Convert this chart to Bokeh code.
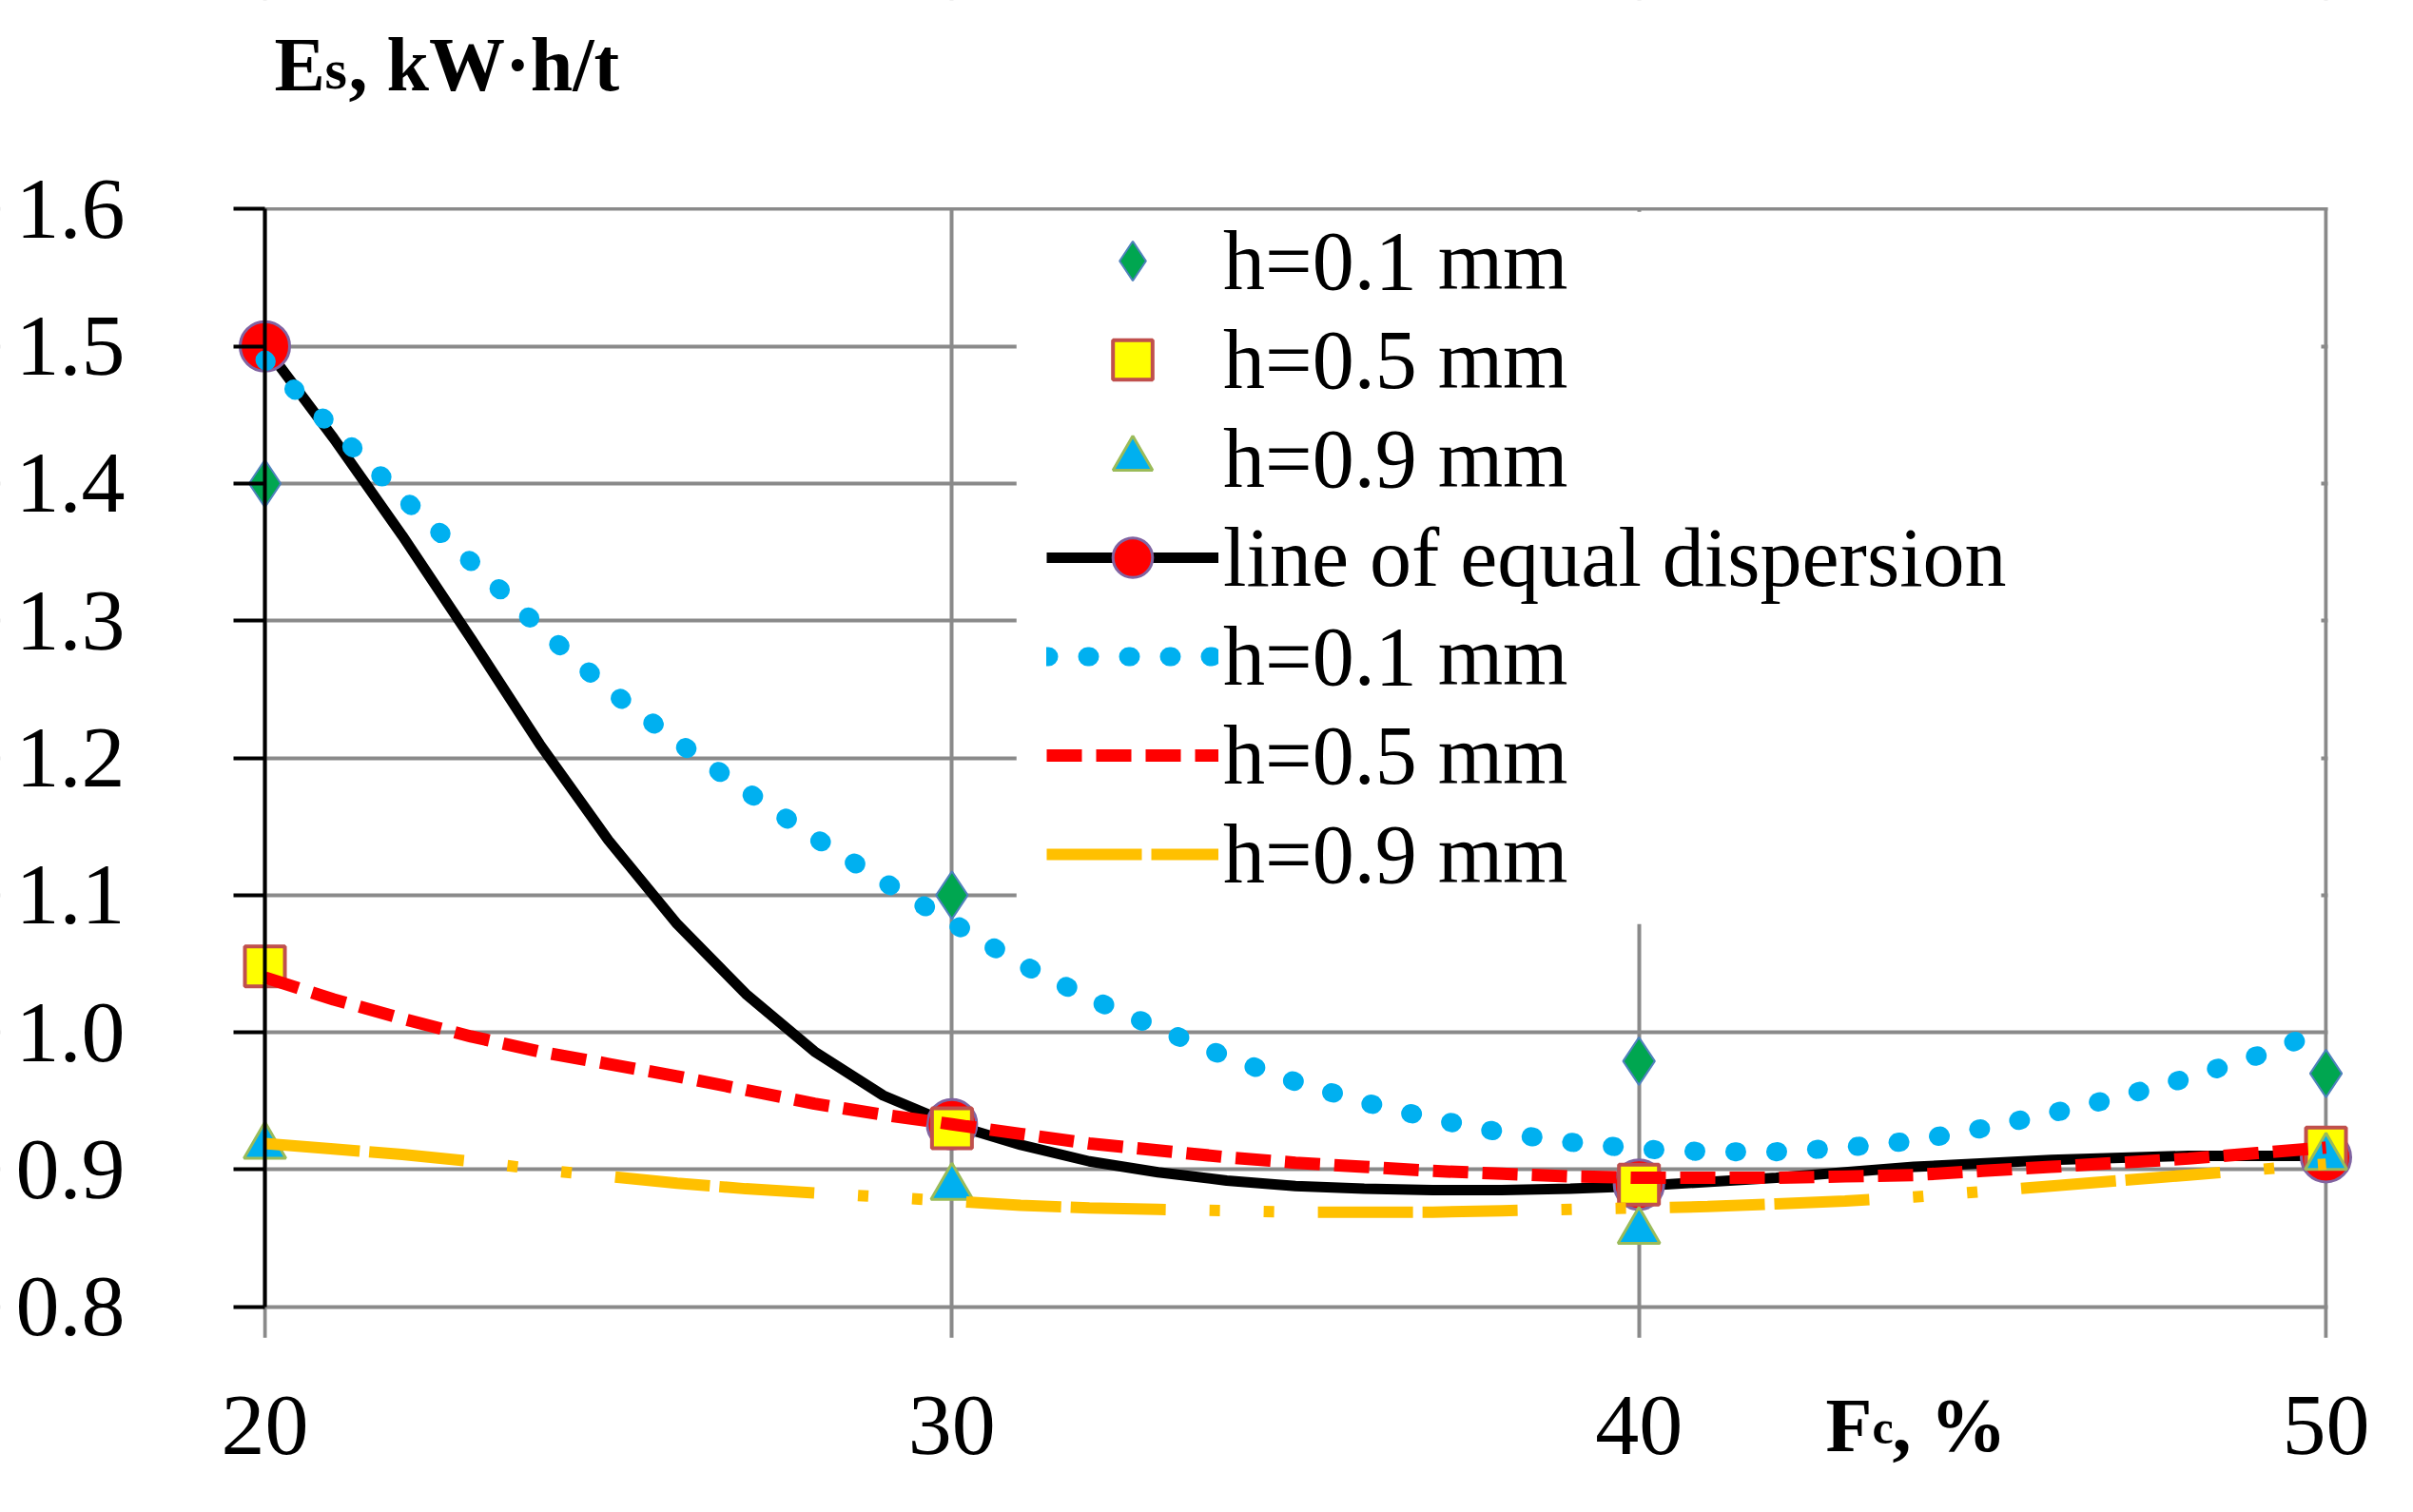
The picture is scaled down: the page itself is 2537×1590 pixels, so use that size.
from bokeh.plotting import figure
from bokeh.models import (Range1d, FixedTicker, PrintfTickFormatter, BoxAnnotation,
                          Legend, LegendItem, Label)
from bokeh.embed import file_html
from bokeh.resources import INLINE

# measured points, Fc in %, Es in kW*h/t
fc = [20, 30, 40, 50]
es_h01 = [1.400, 1.100, 0.979, 0.970]
es_h05 = [1.048, 0.930, 0.889, 0.916]
es_h09 = [0.917, 0.887, 0.855, 0.909]
es_equal = [1.500, 0.933, 0.889, 0.909]

# smoothed line of equal dispersion
fc_curve = [20, 21, 22, 23, 24, 25, 26, 27, 28, 29, 30, 31, 32, 33, 34, 35, 36, 37, 38, 39, 40,
            42, 44, 46, 48, 50]
es_curve = [1.500, 1.433, 1.362, 1.287, 1.210, 1.140, 1.079, 1.028, 0.986, 0.954, 0.933,
            0.918, 0.906, 0.898, 0.892, 0.888, 0.886, 0.885, 0.885, 0.886, 0.888,
            0.894, 0.902, 0.907, 0.910, 0.910]

# trend lines at every 1 %
fc_trend = [20, 21, 22, 23, 24, 25, 26, 27, 28, 29, 30, 31, 32, 33, 34, 35, 36, 37, 38, 39, 40,
            41, 42, 43, 44, 45, 46, 47, 48, 49, 50]
trend_h01 = [1.490, 1.440, 1.390, 1.343, 1.295, 1.250, 1.212, 1.176, 1.142, 1.110, 1.080,
             1.050, 1.025, 1.003, 0.982, 0.964, 0.949, 0.937, 0.927, 0.920, 0.915,
             0.913, 0.913, 0.916, 0.921, 0.930, 0.941, 0.953, 0.967, 0.983, 1.002]
trend_h05 = [1.040, 1.024, 1.010, 0.997, 0.986, 0.977, 0.968, 0.958, 0.948, 0.940, 0.933,
             0.926, 0.919, 0.914, 0.909, 0.905, 0.902, 0.899, 0.897, 0.895, 0.894,
             0.894, 0.894, 0.895, 0.896, 0.899, 0.902, 0.905, 0.908, 0.912, 0.916]
trend_h09 = [0.919, 0.915, 0.911, 0.906, 0.900, 0.895, 0.890, 0.886, 0.883, 0.880, 0.877,
             0.874, 0.872, 0.871, 0.870, 0.869, 0.869, 0.869, 0.870, 0.871, 0.872,
             0.873, 0.875, 0.877, 0.880, 0.884, 0.888, 0.892, 0.896, 0.900, 0.904]

y_ticks = [0.8, 0.9, 1.0, 1.1, 1.2, 1.3, 1.4, 1.5, 1.6]

SERIF = "Liberation Serif"
GRID = "#8a8a8a"

# the frame fills the whole canvas; axes sit at fixed places inside it
X0, X1 = 16.151, 51.038
Y0, Y1 = 0.66187, 1.75206
Y_FLOOR = 0.7775          # lower end of the drawn plot area

p = figure(width=2520, height=1573,
           x_range=Range1d(X0, X1), y_range=Range1d(Y0, Y1),
           output_backend="svg", toolbar_location=None,
           min_border_left=0, min_border_right=0,
           min_border_top=0, min_border_bottom=0)
p.outline_line_color = None
p.background_fill_color = "white"
p.border_fill_color = "white"

# grid
p.xgrid.ticker = FixedTicker(ticks=fc)
p.ygrid.ticker = FixedTicker(ticks=y_ticks)
p.xgrid.grid_line_color = GRID
p.xgrid.grid_line_width = 4
p.ygrid.grid_line_color = GRID
p.ygrid.grid_line_width = 4

# white masks: keep grid lines inside the plot area only
eps_x, eps_y = 0.028, 0.0014
def mask(left, right, bottom, top):
    return BoxAnnotation(left=left, right=right, bottom=bottom, top=top,
                         fill_color="white", fill_alpha=1.0, line_alpha=0,
                         level="underlay")

p.add_layout(mask(X0 - 1, X1 + 1, y_ticks[-1] + eps_y, Y1 + 1))   # above
p.add_layout(mask(X0 - 1, X1 + 1, Y0 - 1, Y_FLOOR))              # below
p.add_layout(mask(X0 - 1, fc[0] - eps_x, Y0 - 1, Y1 + 1))        # left
p.add_layout(mask(fc[-1] + eps_x, X1 + 1, Y0 - 1, Y1 + 1))       # right
# white area behind the legend
p.add_layout(mask(30.94, 49.93, 1.079, 1.598))

# x axis: labels only
p.xaxis.fixed_location = Y_FLOOR
p.xaxis.ticker = FixedTicker(ticks=fc)
p.xaxis.axis_line_color = None
p.xaxis.major_tick_line_color = None
p.xaxis.minor_tick_line_color = None
p.xaxis.major_label_standoff = 56
p.xaxis.major_label_text_font = SERIF
p.xaxis.major_label_text_font_size = "92px"
p.xaxis.major_label_text_color = "black"

# y axis
p.yaxis.fixed_location = fc[0]
p.yaxis.ticker = FixedTicker(ticks=y_ticks)
p.yaxis.formatter = PrintfTickFormatter(format="%.1f")
p.yaxis.bounds = (y_ticks[0], y_ticks[-1])
p.yaxis.axis_line_color = "black"
p.yaxis.axis_line_width = 4
p.yaxis.major_tick_line_color = "black"
p.yaxis.major_tick_line_width = 4
p.yaxis.major_tick_out = 33
p.yaxis.major_tick_in = 0
p.yaxis.minor_tick_line_color = None
p.yaxis.major_label_standoff = 114
p.yaxis.major_label_text_font = SERIF
p.yaxis.major_label_text_font_size = "92px"
p.yaxis.major_label_text_color = "black"

# line of equal dispersion + markers
r_curve = p.line(fc_curve, es_curve, line_color="black", line_width=11)
r_eq = p.scatter(fc, es_equal, marker="circle", size=52, fill_color="#ff0000",
                 line_color="#8064a2", line_width=3)
r_h01 = p.scatter(fc, es_h01, marker="diamond", size=50, fill_color="#00a650",
                  line_color="#4f81bd", line_width=2)
r_h05 = p.scatter(fc, es_h05, marker="square", size=42, fill_color="#ffff00",
                  line_color="#c0504d", line_width=4)
r_h09 = p.scatter(fc, es_h09, marker="triangle", size=44, fill_color="#00b0f0",
                  line_color="#9bbb59", line_width=3)

# trend lines
r_t01 = p.line(fc_trend, trend_h01, line_color="#00b0f0", line_width=20,
               line_dash="2 41", line_cap="round")
r_t05 = p.line(fc_trend, trend_h05, line_color="#ff0000", line_width=13,
               line_dash="37 15")
r_t09 = p.line(fc_trend, trend_h09, line_color="#ffc000", line_width=12,
               line_dash="100 10 100 46 11 46 11 46")

legend = Legend(items=[
    LegendItem(label="h=0.1 mm", renderers=[r_h01]),
    LegendItem(label="h=0.5 mm", renderers=[r_h05]),
    LegendItem(label="h=0.9 mm", renderers=[r_h09]),
    LegendItem(label="line of equal dispersion", renderers=[r_curve, r_eq]),
    LegendItem(label="h=0.1 mm", renderers=[r_t01]),
    LegendItem(label="h=0.5 mm", renderers=[r_t05]),
    LegendItem(label="h=0.9 mm", renderers=[r_t09]),
], location=(1100, 623))
legend.background_fill_alpha = 0
legend.border_line_alpha = 0
legend.padding = 0
legend.margin = 0
legend.spacing = 0
legend.glyph_width = 181
legend.glyph_height = 104
legend.label_height = 104
legend.label_standoff = 5
legend.label_text_font = SERIF
legend.label_text_font_size = "88px"
legend.label_text_color = "black"
p.add_layout(legend)

# axis titles with subscripts
def title_part(x, y, text, size):
    return Label(x=x, y=y, x_units="screen", y_units="screen", text=text,
                 text_font=SERIF, text_font_size=size, text_font_style="bold",
                 text_color="black", text_baseline="alphabetic")

p.add_layout(title_part(288, 1506, "E", "80px"))
p.add_layout(title_part(341, 1501, "s", "60px"))
p.add_layout(title_part(366, 1506, ", kW\u00b7h/t", "80px"))
p.add_layout(title_part(1919, 75, "F", "80px"))
p.add_layout(title_part(1968, 73, "c", "50px"))
p.add_layout(title_part(1989, 75, ", %", "80px"))

open("out.html", "w").write(file_html(p, INLINE))
